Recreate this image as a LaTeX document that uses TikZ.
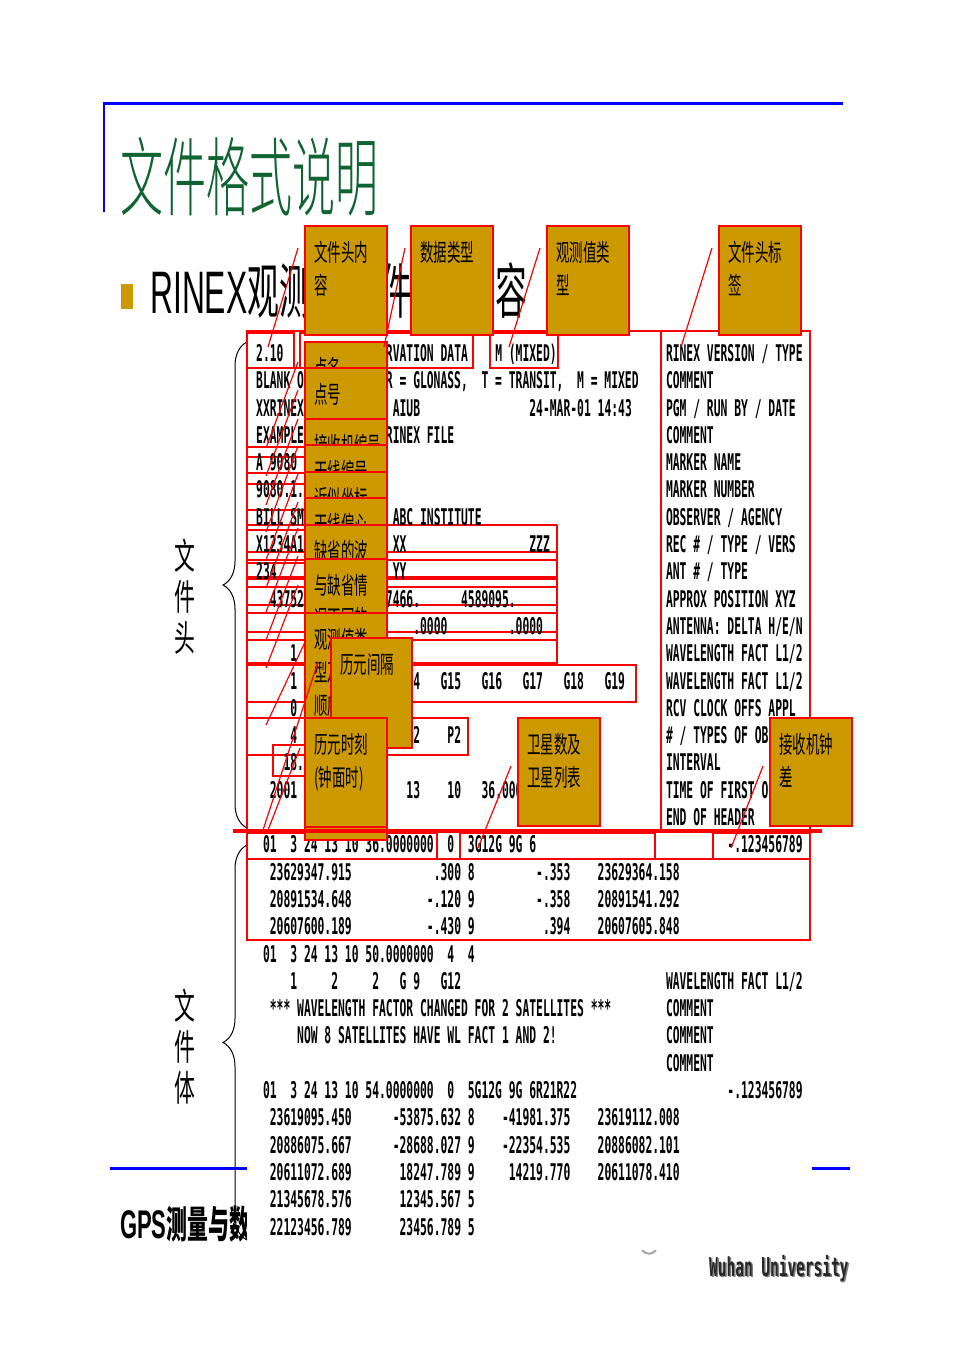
\documentclass[tikz,border=0pt]{standalone}
\usepackage{fontspec}
\usetikzlibrary{decorations.pathreplacing}
\newfontfamily\rx[FakeStretch=0.4932]{DejaVu Sans Mono}
\newfontfamily\wuh[FakeStretch=0.556]{DejaVu Sans Mono}
\newfontfamily\cjkt[FakeStretch=0.5]{Noto Sans CJK SC Light}
\newfontfamily\cjkb[FakeStretch=0.56]{Noto Sans CJK SC}
\newfontfamily\cjks[FakeStretch=0.53]{Noto Sans CJK SC}
\newfontfamily\cjkv[FakeStretch=0.58]{Noto Sans CJK SC}
\newfontfamily\cjkg[FakeStretch=0.55]{Noto Sans CJK SC}
\newfontfamily\latsub[FakeStretch=0.53]{Liberation Sans}
\newfontfamily\latgps[FakeStretch=0.55]{Liberation Sans}
\definecolor{gold}{RGB}{204,153,0}
\definecolor{tgreen}{RGB}{16,100,50}
\newcounter{tn}
\newcommand\RC[3]{\stepcounter{tn}\node[tx] (f\arabic{tn}) at ({256+6.83*(#1)},{361.4+27.3*(#2)}) {#3};}
\newcommand\gold[6]{\node[gbox, minimum width={#4-#2}, minimum height={#5-#3}] (#1) at (#2,#3) {};
  \node[gtxt, xshift=9pt, yshift=-15pt] (#1t) at (#1.north west) {#6};}
\newcommand\lead[5]{\coordinate (#1a) at (#2,#3); \coordinate (#1b) at (#4,#5); \draw[leadl] (#1a) -- (#1b);}
\tikzset{
  tx/.style={anchor=base west, inner sep=0pt, font=\rx\bfseries\fontsize{23}{23}\selectfont},
  gbox/.style={draw=red, line width=1.5pt, fill=gold, anchor=north west, inner sep=0pt, outer sep=0pt},
  gtxt/.style={anchor=north west, inner sep=0pt, align=left, font=\cjkb\fontsize{24}{33}\selectfont},
  rl/.style={draw=red, line width=1.5pt},
  rthk/.style={draw=red, line width=3.5pt},
  leadl/.style={draw=red, line width=1.2pt},
  bluel/.style={draw=blue, line width=3pt},
  bracel/.style={draw=black, line width=1pt, decorate, decoration={brace, amplitude=24pt}},
  vlab/.style={align=center, inner sep=0pt, font=\cjkv\fontsize{36}{41}\selectfont}
}
\begin{document}
\begin{tikzpicture}[x=1pt,y=-1pt]
\useasboundingbox (0,0) rectangle (960,1357);
\fill[white] (0,0) rectangle (960,1357);
% slide frame
\draw[bluel] (103,103) -- (843,103);
\draw[blue, line width=2pt] (104,103) -- (104,212);
\node[anchor=base west, inner sep=0pt, text=tgreen, font=\cjkt\fontsize{86}{86}\selectfont] (title) at (120,209) {文件格式说明};
\fill[gold] (121,284) rectangle (133,309);
\node[anchor=base west, inner sep=0pt, font=\fontsize{60}{60}\selectfont] (sub1) at (150,313) {{\latsub RINEX}{\cjks 观测}};
\node[anchor=base west, inner sep=0pt, font=\cjks\fontsize{60}{60}\selectfont] (sub2) at (348,313) {文件};
\node[anchor=base west, inner sep=0pt, font=\cjks\fontsize{60}{60}\selectfont] (sub3) at (463,313) {内容};
\draw[bluel] (110,1168) -- (850,1168);
\node[anchor=base west, inner sep=0pt] (gps) at (120,1238) {{\latgps\bfseries\fontsize{40}{40}\selectfont GPS}{\cjkg\bfseries\fontsize{38}{38}\selectfont 测量与数据处理}};
\node[anchor=base west, inner sep=0pt, text=gray, font=\wuh\bfseries\fontsize{26}{26}\selectfont] (wuS) at (710.5,1277.5) {Wuhan University};
\node[anchor=base west, inner sep=0pt, text=black!85, font=\wuh\bfseries\fontsize{26}{26}\selectfont] (wu) at (709,1276) {Wuhan University};
\draw[gray!70, line width=2pt] (642,1250) .. controls (646,1255) and (652,1255) .. (656,1250);
% white text block
\fill[white] (247,331) rectangle (812,1250);
% braces and labels
\draw[bracel] (247,828) -- (247,342);
\draw[bracel] (247,1240) -- (247,845);
\node[vlab] (lh) at (185,597) {文\\件\\头};
\node[vlab] (lb) at (185,1047) {文\\件\\体};
% red frames
\draw[rl] (247,331) rectangle (810,831);
\draw[rl] (661,331) -- (661,831);
\draw[rl] (247,333) rectangle (294,368);
\draw[rl] (300,333) rectangle (473,368);
\draw[rl] (490,333) rectangle (558,368);
\foreach \yy in {368,447,457,473,484,510,530,563} \draw[rl] (247,\yy) -- (305,\yy);
\foreach \yy in {525,552,560,587,605,613,632,640} \draw[rl] (247,\yy) -- (557,\yy);
\draw[rl] (557,525) -- (557,664);
\draw[rthk] (247,578) -- (557,578);
\draw[rthk] (247,664) -- (557,664);
\draw[rl] (247,665) rectangle (636,702);
\draw[rl] (247,718) rectangle (468,755);
\draw[rl] (273,745) rectangle (305,776);
\draw[rl] (247,833) rectangle (437,859);
\draw[rl] (460,833) rectangle (655,859);
\draw[rl] (713,833) rectangle (810,859);
\draw[rl] (247,859) rectangle (810,940);
% header text
\RC{0}{0}{2.10}\RC{15}{0}{OBSERVATION DATA}\RC{35}{0}{M (MIXED)}\RC{60}{0}{RINEX VERSION / TYPE}
\RC{0}{1}{BLANK OR G = GPS,~~R = GLONASS,~~T = TRANSIT,~~M = MIXED}\RC{60}{1}{COMMENT}
\RC{0}{2}{XXRINEXO V9.9}\RC{20}{2}{AIUB}\RC{40}{2}{24-MAR-01 14:43}\RC{60}{2}{PGM / RUN BY / DATE}
\RC{0}{3}{EXAMPLE OF A MIXED RINEX FILE}\RC{60}{3}{COMMENT}
\RC{0}{4}{A 9080}\RC{60}{4}{MARKER NAME}
\RC{0}{5}{9080.1.34}\RC{60}{5}{MARKER NUMBER}
\RC{0}{6}{BILL SMITH}\RC{20}{6}{ABC INSTITUTE}\RC{60}{6}{OBSERVER / AGENCY}
\RC{0}{7}{X1234A123}\RC{20}{7}{XX}\RC{40}{7}{ZZZ}\RC{60}{7}{REC \# / TYPE / VERS}
\RC{0}{8}{234}\RC{20}{8}{YY}\RC{60}{8}{ANT \# / TYPE}
\RC{2}{9}{4375274.}\RC{17}{9}{587466.}\RC{30}{9}{4589095.}\RC{60}{9}{APPROX POSITION XYZ}
\RC{9}{10}{.9030}\RC{23}{10}{.0000}\RC{37}{10}{.0000}\RC{60}{10}{ANTENNA: DELTA H/E/N}
\RC{5}{11}{1}\RC{11}{11}{1}\RC{60}{11}{WAVELENGTH FACT L1/2}
\RC{5}{12}{1}\RC{11}{12}{2}\RC{17}{12}{6}\RC{21}{12}{G14}\RC{27}{12}{G15}\RC{33}{12}{G16}\RC{39}{12}{G17}\RC{45}{12}{G18}\RC{51}{12}{G19}\RC{60}{12}{WAVELENGTH FACT L1/2}
\RC{5}{13}{0}\RC{60}{13}{RCV CLOCK OFFS APPL}
\RC{5}{14}{4}\RC{10}{14}{P1}\RC{16}{14}{L1}\RC{22}{14}{L2}\RC{28}{14}{P2}\RC{60}{14}{\# / TYPES OF OBSERV}
\RC{4}{15}{18.000}\RC{60}{15}{INTERVAL}
\RC{2}{16}{2001}\RC{11}{16}{3}\RC{16}{16}{24}\RC{22}{16}{13}\RC{28}{16}{10}\RC{33}{16}{36.0000000}\RC{60}{16}{TIME OF FIRST OBS}
\RC{60}{17}{END OF HEADER}
% body text
\RC{1}{18}{01~~3~24~13~10~36.0000000}\RC{28}{18}{0}\RC{31}{18}{3G12G~9G~6}\RC{69}{18}{-.123456789}
\RC{2}{19}{23629347.915}\RC{26}{19}{.300 8}\RC{41}{19}{-.353}\RC{50}{19}{23629364.158}
\RC{2}{20}{20891534.648}\RC{25}{20}{-.120 9}\RC{41}{20}{-.358}\RC{50}{20}{20891541.292}
\RC{2}{21}{20607600.189}\RC{25}{21}{-.430 9}\RC{42}{21}{.394}\RC{50}{21}{20607605.848}
\RC{1}{22}{01~~3~24~13~10~50.0000000~~4~~4}
\RC{5}{23}{1}\RC{11}{23}{2}\RC{17}{23}{2}\RC{21}{23}{G~9}\RC{27}{23}{G12}\RC{60}{23}{WAVELENGTH FACT L1/2}
\RC{2}{24}{*** WAVELENGTH FACTOR CHANGED FOR 2 SATELLITES ***}\RC{60}{24}{COMMENT}
\RC{6}{25}{NOW 8 SATELLITES HAVE WL FACT 1 AND 2!}\RC{60}{25}{COMMENT}
\RC{60}{26}{COMMENT}
\RC{1}{27}{01~~3~24~13~10~54.0000000~~0~~5G12G~9G~6R21R22}\RC{69}{27}{-.123456789}
\RC{2}{28}{23619095.450}\RC{20}{28}{-53875.632 8}\RC{36}{28}{-41981.375}\RC{50}{28}{23619112.008}
\RC{2}{29}{20886075.667}\RC{20}{29}{-28688.027 9}\RC{36}{29}{-22354.535}\RC{50}{29}{20886082.101}
\RC{2}{30}{20611072.689}\RC{21}{30}{18247.789 9}\RC{37}{30}{14219.770}\RC{50}{30}{20611078.410}
\RC{2}{31}{21345678.576}\RC{21}{31}{12345.567 5}
\RC{2}{32}{22123456.789}\RC{21}{32}{23456.789 5}
% gold callouts
\gold{b1}{305}{226}{387}{335}{文件头内\\容}
\gold{b2}{411}{226}{493}{335}{数据类型}
\gold{b3}{547}{226}{629}{335}{观测值类\\型}
\gold{b4}{719}{226}{801}{335}{文件头标\\签}
\gold{c1}{305}{342}{387}{400}{点名}
\gold{c2}{305}{368}{387}{430}{点号}
\gold{c3}{305}{419}{387}{460}{接收机编号}
\gold{c4}{305}{445}{387}{480}{天线编号}
\gold{c5}{305}{472}{387}{505}{近似坐标}
\gold{c6}{305}{498}{387}{530}{天线偏心}
\gold{c7}{305}{525}{387}{565}{缺省的波}
\gold{c8}{305}{559}{387}{620}{与缺省情\\况不同的}
\gold{c9}{305}{613}{387}{760}{观测值类\\型及其\\顺序}
\gold{c10}{305}{760}{387}{840}{}
\gold{d1}{331}{638}{412}{748}{历元间隔}
\gold{d2}{305}{718}{387}{827}{历元时刻\\(钟面时)}
\gold{d3}{518}{718}{600}{826}{卫星数及\\卫星列表}
\gold{d4}{770}{718}{852}{826}{接收机钟\\差}
% leaders
\lead{la}{268}{347}{298}{248}
\lead{lb}{384}{347}{405}{248}
\lead{lc}{509}{347}{540}{248}
\lead{ld}{681}{347}{712}{248}
\lead{le}{266}{448}{298}{362}
\lead{lf}{266}{476}{298}{390}
\lead{lg}{266}{505}{298}{419}
\lead{lh}{266}{532}{298}{446}
\lead{li}{266}{560}{298}{474}
\lead{lj}{266}{588}{298}{502}
\lead{lk}{266}{612}{298}{528}
\lead{ll}{266}{640}{298}{556}
\lead{lm}{266}{668}{298}{585}
\lead{ln}{266}{725}{306}{640}
\lead{lo}{263}{830}{318}{662}
\lead{lp}{268}{830}{300}{748}
\lead{lq}{478}{848}{511}{766}
\lead{lr}{731}{848}{763}{766}
\draw[red, line width=4pt] (233,831) -- (822,831);
\end{tikzpicture}
\end{document}
